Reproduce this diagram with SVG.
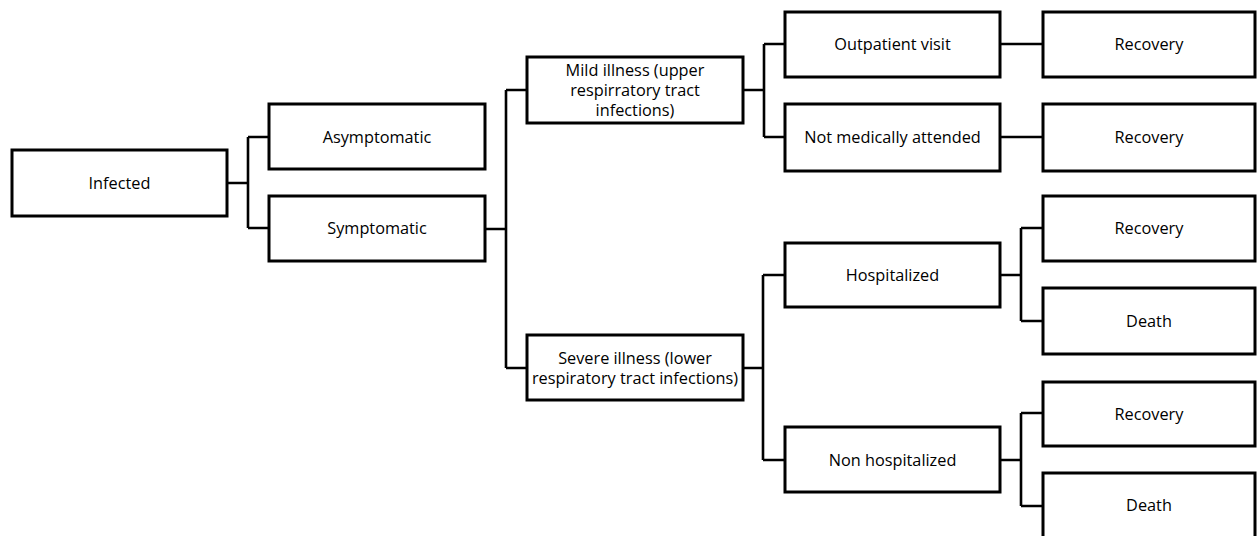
<svg xmlns="http://www.w3.org/2000/svg" width="1257" height="536" viewBox="0 0 1257 536">
<style>
rect{fill:#fff;stroke:#000;stroke-width:3}
text{font-family:"Open Sans","Liberation Sans",sans-serif;font-size:16.3px;fill:#000;text-anchor:middle;dominant-baseline:central}
#connectors path{fill:none;stroke:#000;stroke-width:2.6}
</style>
<rect x="0" y="0" width="1257" height="536" style="stroke:none"/>
<g id="connectors">
<path d="M227 183H248M248 137V228M248 137H269M248 228H269"/>
<path d="M485 229H506M506 90V368M506 90H527M506 368H527"/>
<path d="M743 90H764M764 44V137M764 44H785M764 137H785"/>
<path d="M743 368H763M763 275V460M763 275H785M763 460H785"/>
<path d="M1000 44H1043M1000 137H1043"/>
<path d="M1000 275H1021M1021 228V321M1021 228H1043M1021 321H1043"/>
<path d="M1000 460H1021M1021 413V506M1021 413H1043M1021 506H1043"/>
</g>
<g id="infected"><rect x="12" y="150" width="215" height="66"/><text x="119.5" y="183">Infected</text></g>
<g id="asymptomatic"><rect x="269" y="104" width="216" height="65"/><text x="377" y="137">Asymptomatic</text></g>
<g id="symptomatic"><rect x="269" y="196" width="216" height="65"/><text x="377" y="228">Symptomatic</text></g>
<g id="mild"><rect x="527" y="57" width="216" height="66"/><text x="635" y="70">Mild illness (upper</text><text x="635" y="90">respirratory tract</text><text x="635" y="110">infections)</text></g>
<g id="severe"><rect x="527" y="335" width="216" height="65"/><text x="635" y="358">Severe illness (lower</text><text x="635" y="378">respiratory tract infections)</text></g>
<g id="outpatient"><rect x="785" y="12" width="215" height="65"/><text x="892.5" y="44">Outpatient visit</text></g>
<g id="notattended"><rect x="785" y="104" width="215" height="67"/><text x="892.5" y="137">Not medically attended</text></g>
<g id="hospitalized"><rect x="785" y="243" width="215" height="64"/><text x="892.5" y="275">Hospitalized</text></g>
<g id="nonhospitalized"><rect x="785" y="427" width="215" height="65"/><text x="892.5" y="460">Non hospitalized</text></g>
<g id="recovery1"><rect x="1043" y="12" width="212" height="65"/><text x="1149" y="44">Recovery</text></g>
<g id="recovery2"><rect x="1043" y="104" width="212" height="67"/><text x="1149" y="137">Recovery</text></g>
<g id="recovery3"><rect x="1043" y="196" width="212" height="65"/><text x="1149" y="228">Recovery</text></g>
<g id="death1"><rect x="1043" y="288" width="212" height="66"/><text x="1149" y="321">Death</text></g>
<g id="recovery4"><rect x="1043" y="382" width="212" height="64"/><text x="1149" y="414">Recovery</text></g>
<g id="death2"><rect x="1043" y="473" width="212" height="66"/><text x="1149" y="505">Death</text></g>
</svg>
